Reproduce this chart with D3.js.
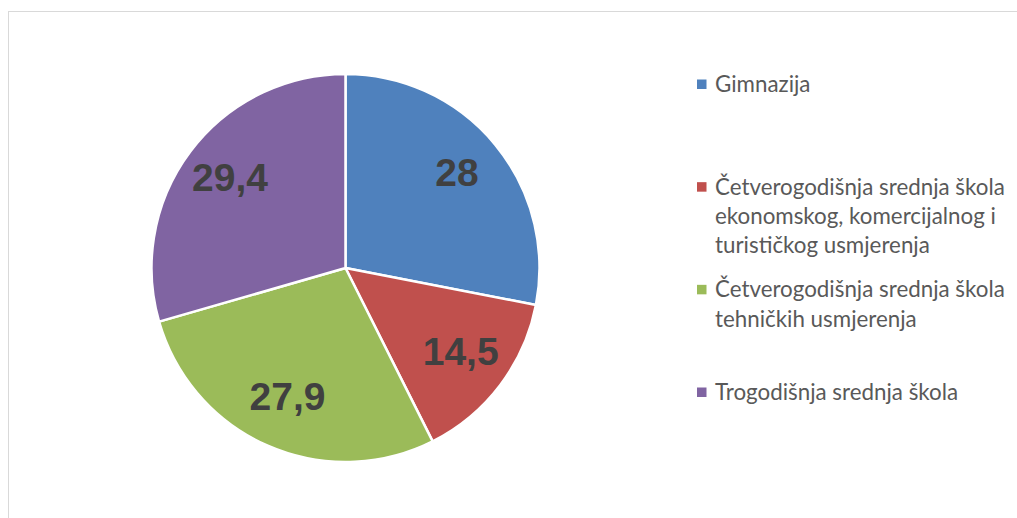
<!DOCTYPE html>
<html>
<head>
<meta charset="utf-8">
<script src="https://cdn.jsdelivr.net/npm/d3@7"></script>
<style>
  html, body { margin: 0; padding: 0; background: #fff; }
  svg { display: block; }
</style>
</head>
<body>
<svg id="chart" width="1017" height="518"></svg>
<script>
// ---- data ----
const categories = [
  "Gimnazija",
  "Četverogodišnja srednja škola ekonomskog, komercijalnog i turističkog usmjerenja",
  "Četverogodišnja srednja škola tehničkih usmjerenja",
  "Trogodišnja srednja škola"
];
const values = [28, 14.5, 27.9, 29.4];
const valueLabels = ["28", "14,5", "27,9", "29,4"];
const colors = ["#4F81BD", "#C0504D", "#9BBB59", "#8064A2"];

// ---- layout ----
const W = 1017, H = 518;
const cx = 345.5, cy = 268, R = 194;
const svg = d3.select("#chart");

// chart area border
svg.append("rect")
  .attr("x", 8.5).attr("y", 11.5)
  .attr("width", 1200).attr("height", 700)
  .attr("fill", "none").attr("stroke", "#d9d9d9").attr("stroke-width", 1);

const pie = d3.pie().sort(null).value(d => d)(values);
const arc = d3.arc().innerRadius(0).outerRadius(R);
const labelArc = d3.arc().innerRadius(R * 0.745).outerRadius(R * 0.745);

const g = svg.append("g").attr("transform", `translate(${cx},${cy})`);
g.selectAll("path.slice")
  .data(pie)
  .join("path")
  .attr("class", "slice")
  .attr("d", arc)
  .attr("fill", (d, i) => colors[i])
  .attr("stroke", "#ffffff")
  .attr("stroke-width", 2.5)
  .attr("stroke-linejoin", "round");

g.selectAll("text.vlabel")
  .data(pie)
  .join("text")
  .attr("class", "vlabel")
  .attr("transform", d => `translate(${labelArc.centroid(d)})`)
  .attr("text-anchor", "middle")
  .attr("dy", "0.25em")
  .attr("font-family", "'Liberation Sans', Arial, sans-serif")
  .attr("font-weight", "bold")
  .attr("font-size", 39)
  .attr("fill", "#404040")
  .text((d, i) => valueLabels[i]);

// ---- legend ----
const legendFont = "Lato, 'Open Sans', sans-serif";
// measure to fit the reference's line width
const probe = svg.append("text")
  .attr("font-family", legendFont).attr("font-size", 20)
  .text("Četverogodišnja srednja škola");
const probeW = probe.node().getComputedTextLength();
probe.remove();
const legendSize = 20 * 290 / probeW;
const maxLine = 300;
const lineH = 29.2;

const legendY = d3.scaleLinear().domain([0, 3]).range([92, 400]);
const legend = svg.append("g");

categories.forEach((name, i) => {
  const y0 = legendY(i);
  legend.append("rect")
    .attr("x", 697).attr("y", y0 - 12.5)
    .attr("width", 9.5).attr("height", 9.5)
    .attr("fill", colors[i]);
  const t = legend.append("text")
    .attr("x", 715).attr("y", y0)
    .attr("font-family", legendFont)
    .attr("font-size", legendSize)
    .attr("fill", "#595959");
  // wrap words
  const words = name.split(" ");
  let line = [];
  let lineNo = 0;
  let tspan = t.append("tspan").attr("x", 715).attr("y", y0);
  words.forEach(w => {
    line.push(w);
    tspan.text(line.join(" "));
    if (tspan.node().getComputedTextLength() > maxLine && line.length > 1) {
      line.pop();
      tspan.text(line.join(" "));
      line = [w];
      lineNo++;
      tspan = t.append("tspan").attr("x", 715).attr("y", y0 + lineNo * lineH).text(w);
    }
  });
});
</script>
</body>
</html>
